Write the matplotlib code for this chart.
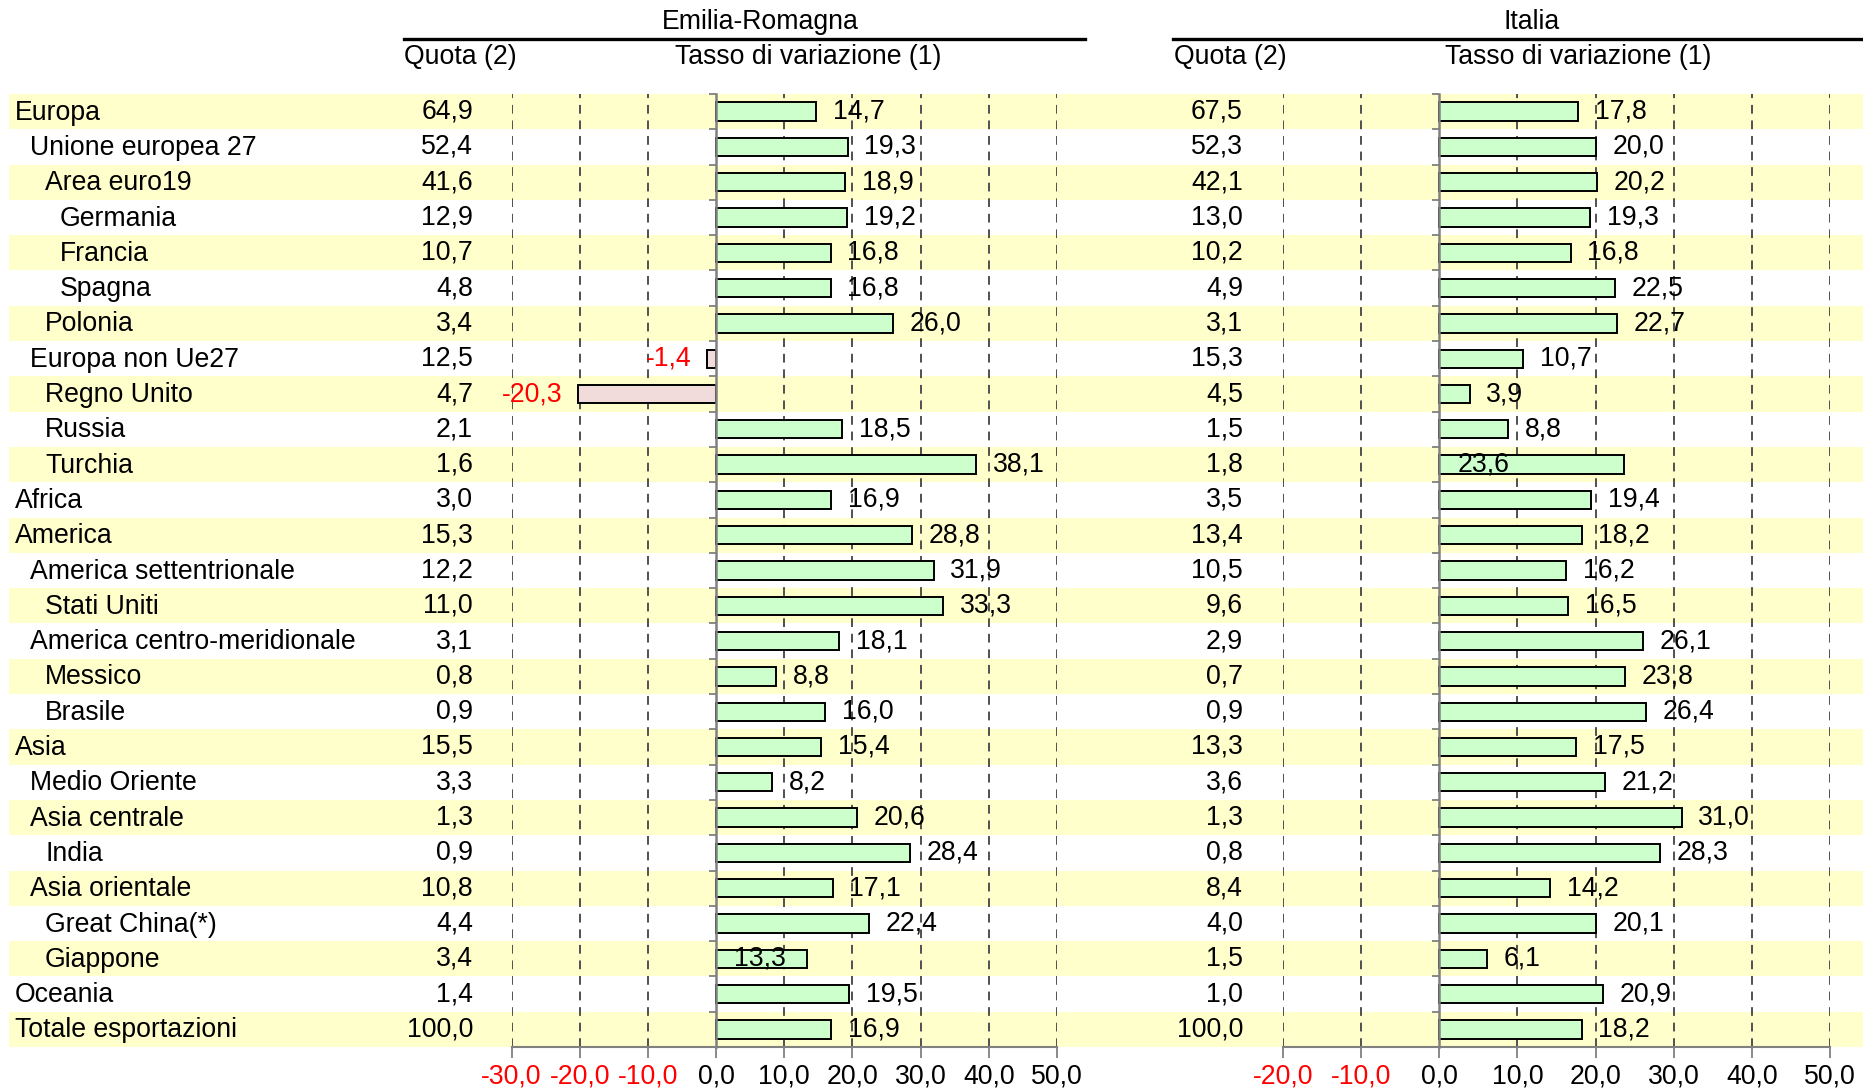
import matplotlib
matplotlib.use("Agg")
import matplotlib.pyplot as plt
from matplotlib.lines import Line2D

# ---------------- data ----------------
categories = [
    "Europa", "Unione europea 27", "Area euro19", "Germania", "Francia", "Spagna",
    "Polonia", "Europa non Ue27", "Regno Unito", "Russia", "Turchia", "Africa",
    "America", "America settentrionale", "Stati Uniti", "America centro-meridionale",
    "Messico", "Brasile", "Asia", "Medio Oriente", "Asia centrale", "India",
    "Asia orientale", "Great China(*)", "Giappone", "Oceania", "Totale esportazioni",
]
levels = [0, 1, 2, 3, 3, 3, 2, 1, 2, 2, 2, 0, 0, 1, 2, 1, 2, 2, 0, 1, 1, 2, 1, 2, 2, 0, 0]

er_quota = [64.9, 52.4, 41.6, 12.9, 10.7, 4.8, 3.4, 12.5, 4.7, 2.1, 1.6, 3.0, 15.3, 12.2,
            11.0, 3.1, 0.8, 0.9, 15.5, 3.3, 1.3, 0.9, 10.8, 4.4, 3.4, 1.4, 100.0]
er_var = [14.7, 19.3, 18.9, 19.2, 16.8, 16.8, 26.0, -1.4, -20.3, 18.5, 38.1, 16.9, 28.8,
          31.9, 33.3, 18.1, 8.8, 16.0, 15.4, 8.2, 20.6, 28.4, 17.1, 22.4, 13.3, 19.5, 16.9]
it_quota = [67.5, 52.3, 42.1, 13.0, 10.2, 4.9, 3.1, 15.3, 4.5, 1.5, 1.8, 3.5, 13.4, 10.5,
            9.6, 2.9, 0.7, 0.9, 13.3, 3.6, 1.3, 0.8, 8.4, 4.0, 1.5, 1.0, 100.0]
it_var = [17.8, 20.0, 20.2, 19.3, 16.8, 22.5, 22.7, 10.7, 3.9, 8.8, 23.6, 19.4, 18.2,
          16.2, 16.5, 26.1, 23.8, 26.4, 17.5, 21.2, 31.0, 28.3, 14.2, 20.1, 6.1, 20.9, 18.2]

er_ticks = [-30, -20, -10, 0, 10, 20, 30, 40, 50]
it_ticks = [-20, -10, 0, 10, 20, 30, 40, 50]

panel_titles = ["Emilia-Romagna", "Italia"]
col_quota = "Quota (2)"
col_var = "Tasso di variazione (1)"

# ---------------- layout ----------------
W, H = 1863, 1090
plt.rcParams["font.family"] = ["Liberation Sans", "DejaVu Sans"]
FS = 19.2
fig = plt.figure(figsize=(W / 100, H / 100), dpi=100)

n = len(categories)
TOP, BOT = 94, 1047


def fmt(v):
    return f"{v:.1f}".replace(".", ",")


ax_b = 1 - BOT / H
ax_h = (BOT - TOP) / H

# table / background axes (x in pixels)
ax_tab = fig.add_axes([0, ax_b, 1, ax_h])
ax_tab.set_xlim(0, W)
ax_tab.set_ylim(n - 0.5, -0.5)
ax_tab.axis("off")
for i in range(0, n, 2):
    ax_tab.axhspan(i - 0.5, i + 0.5, xmin=9 / W, xmax=1, color="#FFFFCC", lw=0, zorder=0)
for i, (c, l) in enumerate(zip(categories, levels)):
    ax_tab.text(15 + 15 * l, i + 0.03, c, ha="left", va="center", fontsize=FS)
    ax_tab.text(473, i, fmt(er_quota[i]), ha="right", va="center", fontsize=FS)
    ax_tab.text(1243, i, fmt(it_quota[i]), ha="right", va="center", fontsize=FS)


def panel(x0, x1, values, ticks, inside):
    ax = fig.add_axes([x0 / W, ax_b, (x1 - x0) / W, ax_h], facecolor="none")
    ax.set_xlim(ticks[0], ticks[-1])
    ax.set_ylim(n - 0.5, -0.5)
    for t in ticks:
        if t != 0:
            ax.axvline(t, color="#505050", lw=1.4, ls=(0, (4.5, 3.5)), zorder=1)
    cols = ["#CCFFCC" if v >= 0 else "#F2DCDB" for v in values]
    ax.barh(range(n), values, height=0.52, color=cols, edgecolor="black", lw=1.4, zorder=3)
    for s in ("top", "right"):
        ax.spines[s].set_visible(False)
    ax.spines["left"].set_position(("data", 0))
    ax.spines["left"].set_color("#808080")
    ax.spines["left"].set_linewidth(1.8)
    ax.spines["left"].set_zorder(4)
    ax.spines["bottom"].set_color("#808080")
    ax.spines["bottom"].set_linewidth(1.5)
    ax.set_yticks([i - 0.5 for i in range(n + 1)])
    ax.set_yticklabels([])
    ax.tick_params(axis="y", length=5, width=1.3, color="#808080", direction="out")
    ax.set_xticks(ticks)
    ax.set_xticklabels([fmt(t) for t in ticks], fontsize=FS)
    for lab, t in zip(ax.get_xticklabels(), ticks):
        lab.set_color("red" if t < 0 else "black")
    ax.tick_params(axis="x", length=8, width=1.3, color="#808080", pad=4)
    for i, v in enumerate(values):
        if i in inside:
            ax.annotate(fmt(v), (0, i), xytext=(13, 0), textcoords="offset points",
                        ha="left", va="center", fontsize=FS, zorder=5)
        elif v >= 0:
            ax.annotate(fmt(v), (v, i), xytext=(12, 0), textcoords="offset points",
                        ha="left", va="center", fontsize=FS, zorder=5)
        else:
            ax.annotate(fmt(v), (v, i), xytext=(-11, 0), textcoords="offset points",
                        ha="right", va="center", fontsize=FS, color="red", zorder=5)
    return ax


panel(511.5, 1057, er_var, er_ticks, inside={24})
panel(1283, 1830, it_var, it_ticks, inside={10})


# headers
def fx(px):
    return px / W


def fy(px):
    return 1 - px / H


fig.text(fx(760), fy(22), panel_titles[0], ha="center", va="center", fontsize=FS)
fig.text(fx(1532), fy(22), panel_titles[1], ha="center", va="center", fontsize=FS)
fig.add_artist(Line2D([fx(404), fx(1085)], [fy(39), fy(39)], color="black", lw=2.4,
                      transform=fig.transFigure))
fig.add_artist(Line2D([fx(1173), fx(1863)], [fy(39), fy(39)], color="black", lw=2.4,
                      transform=fig.transFigure))
fig.text(fx(404), fy(57), col_quota, ha="left", va="center", fontsize=FS)
fig.text(fx(808), fy(57), col_var, ha="center", va="center", fontsize=FS)
fig.text(fx(1174), fy(57), col_quota, ha="left", va="center", fontsize=FS)
fig.text(fx(1578), fy(57), col_var, ha="center", va="center", fontsize=FS)

fig.savefig("out.png", dpi=100)
